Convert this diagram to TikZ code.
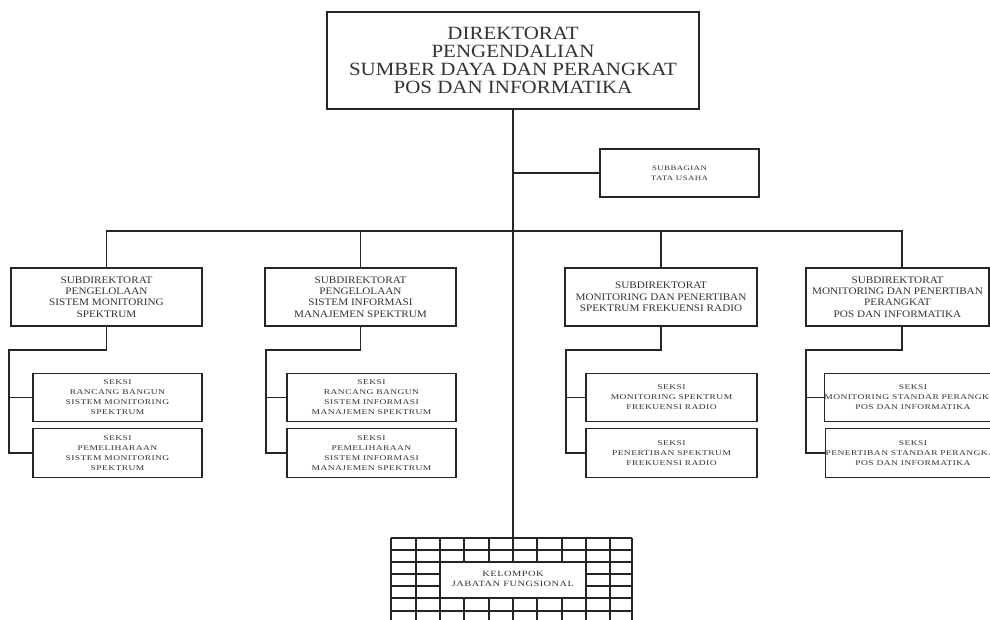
\documentclass[tikz,border=0pt]{standalone}
\usepackage{fontspec}
\newfontfamily\headfont{Liberation Serif}[FakeStretch=1.12]
\newfontfamily\unitfont{Liberation Serif}[FakeStretch=1.3,LetterSpace=6]
\begin{document}
\begin{tikzpicture}[x=1pt,y=-1pt,
  box/.style={draw=black!85, line width=1.1pt, inner sep=0pt, align=center, text=black!80},
  headbox/.style={box, minimum width=372pt, minimum height=97pt,
    font={\headfont\fontsize{18.7}{18}\selectfont}},
  subdir/.style={box, minimum width=191pt, minimum height=58pt,
    font={\headfont\fontsize{10}{11.3}\selectfont}},
  seksi/.style={box, minimum width=169pt, minimum height=48.5pt,
    font={\unitfont\fontsize{7.3}{10}\selectfont}},
  link/.style={draw=black!85, line width=1.2pt},
  gridline/.style={draw=black!85, line width=1.1pt}]
  \useasboundingbox (0,0) rectangle (990,620);
  \clip (0,0) rectangle (990,620);
  \fill[white] (0,0) rectangle (990,620);

  % head office
  \node[headbox] (top) at (513,60.5) {DIREKTORAT\\PENGENDALIAN\\SUMBER DAYA DAN PERANGKAT\\POS DAN INFORMATIKA};
  \node[box, minimum width=159pt, minimum height=48pt,
        font={\unitfont\fontsize{6.8}{10}\selectfont}] (sub) at (679.5,173) {SUBBAGIAN\\TATA USAHA};

  % subdirectorates
  \node[subdir] (sd1) at (106.5,297) {SUBDIREKTORAT\\PENGELOLAAN\\SISTEM MONITORING\\SPEKTRUM};
  \node[subdir] (sd2) at (360.5,297) {SUBDIREKTORAT\\PENGELOLAAN\\SISTEM INFORMASI\\MANAJEMEN SPEKTRUM};
  \node[subdir, minimum width=192pt] (sd3) at (661,297) {SUBDIREKTORAT\\MONITORING DAN PENERTIBAN\\SPEKTRUM FREKUENSI RADIO};
  \node[subdir, minimum width=183pt] (sd4) at (897.5,297) {SUBDIREKTORAT\\MONITORING DAN PENERTIBAN\\PERANGKAT\\POS DAN INFORMATIKA};

  % sections
  \node[seksi] (s11) at (117.5,397.5) {SEKSI\\RANCANG BANGUN\\SISTEM MONITORING\\SPEKTRUM};
  \node[seksi] (s12) at (117.5,453) {SEKSI\\PEMELIHARAAN\\SISTEM MONITORING\\SPEKTRUM};
  \node[seksi] (s21) at (371.5,397.5) {SEKSI\\RANCANG BANGUN\\SISTEM INFORMASI\\MANAJEMEN SPEKTRUM};
  \node[seksi] (s22) at (371.5,453) {SEKSI\\PEMELIHARAAN\\SISTEM INFORMASI\\MANAJEMEN SPEKTRUM};
  \node[seksi, minimum width=171pt] (s31) at (671.5,397.5) {SEKSI\\MONITORING SPEKTRUM\\FREKUENSI RADIO};
  \node[seksi, minimum width=171pt] (s32) at (671.5,453) {SEKSI\\PENERTIBAN SPEKTRUM\\FREKUENSI RADIO};
  \node[seksi, minimum width=172pt] (s41) at (913,397.5) {SEKSI\\MONITORING STANDAR PERANGKAT\\POS DAN INFORMATIKA};
  \node[seksi, minimum width=172pt] (s42) at (913,453) {SEKSI\\PENERTIBAN STANDAR PERANGKAT\\POS DAN INFORMATIKA};

  % functional group grid
  \foreach \gx in {391,416,440,464,489,513,537,562,586,610,632}
    \draw[gridline] (\gx,538) -- (\gx,630);
  \foreach \gy in {538,550,562,574,586,598,611,623}
    \draw[gridline] (391,\gy) -- (632,\gy);
  \node[box, fill=white, minimum width=146pt, minimum height=36pt,
        font={\unitfont\fontsize{8}{11}\selectfont}] (kel) at (513,580)
        {\raisebox{2pt}{\shortstack{KELOMPOK\\[1pt]JABATAN FUNGSIONAL}}};

  % connection points
  \coordinate (gtop) at (513,538);
  \coordinate (bus) at (513,231);
  \coordinate (d4) at (902,268);
  \coordinate (k1) at (9,350);
  \coordinate (k2) at (266,350);
  \coordinate (k3) at (566,350);
  \coordinate (k4) at (806,350);

  % main line, staff office and bus
  \draw[link] (top.south) -- (gtop);
  \draw[link] (top.south |- sub.west) -- (sub.west);
  \draw[link] (sd1.north) |- (d4 |- bus) -- (d4);
  \draw[link] (sd2.north) -- (sd2.north |- bus);
  \draw[link] (sd3.north) -- (sd3.north |- bus);

  % sections under each subdirectorate
  \draw[link] (sd1.south) |- (k1) -- (k1 |- s12.west) -- (s12.west);
  \draw[link] (k1 |- s11.west) -- (s11.west);
  \draw[link] (sd2.south) |- (k2) -- (k2 |- s22.west) -- (s22.west);
  \draw[link] (k2 |- s21.west) -- (s21.west);
  \draw[link] (sd3.south) |- (k3) -- (k3 |- s32.west) -- (s32.west);
  \draw[link] (k3 |- s31.west) -- (s31.west);
  \draw[link] (d4 |- sd4.south) |- (k4) -- (k4 |- s42.west) -- (s42.west);
  \draw[link] (k4 |- s41.west) -- (s41.west);
\end{tikzpicture}
\end{document}
